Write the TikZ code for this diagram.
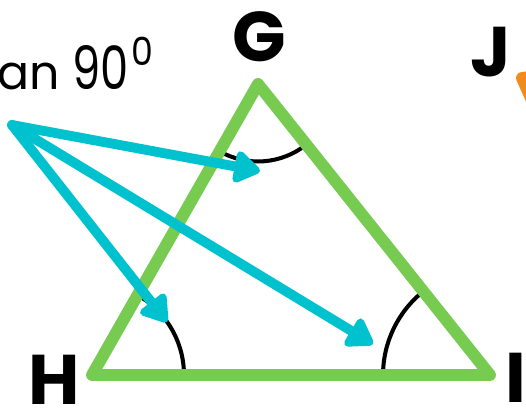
\documentclass[tikz,border=0pt]{standalone}
\usepackage{fontspec}
\setmainfont{Poppins}
\usepackage{tikz}
\usetikzlibrary{arrows.meta}
\usetikzlibrary{positioning}

\definecolor{trigreen}{RGB}{118,203,80}
\definecolor{pointcyan}{RGB}{0,194,206}
\definecolor{sideorange}{RGB}{242,138,30}

\tikzset{
  vertexlabel/.style={font=\fontsize{40}{40}\selectfont\bfseries, inner sep=0pt},
  triside/.style={draw=trigreen, line width=6.8pt, line cap=round, line join=round},
  anglearc/.style={draw=black, line width=2.3pt},
  pointer/.style={draw=pointcyan, line width=5.6pt, line cap=round,
    -{Triangle[length=0.58cm, width=0.72cm, round]}},
}

\begin{document}
\begin{tikzpicture}[x=0.02cm, y=0.02cm]
  \useasboundingbox (0,0) rectangle (526,413);
  \clip (0,0) rectangle (526,413);

  % corners of the triangle
  \coordinate (G) at (258,329);
  \coordinate (H) at (92,38);
  \coordinate (I) at (490,38);

  % where the pointers start and end
  \coordinate (start) at (12,288);
  \coordinate (atG) at (260,242);
  \coordinate (atH) at (167,91);
  \coordinate (atI) at (373,69);

  % angle marks
  \draw[anglearc] ([shift={(0:1.84cm)}]H) arc[start angle=0, end angle=60.3, radius=1.84cm];
  \draw[anglearc] ([shift={(180:2.14cm)}]I) arc[start angle=180, end angle=128.6, radius=2.14cm];
  \draw[anglearc] ([shift={(240.3:1.55cm)}]G) arc[start angle=240.3, end angle=308.6, radius=1.55cm];

  \draw[triside] (G) -- (H) -- (I) -- cycle;

  % part of the next shape
  \draw[draw=sideorange, line width=6.8pt, line cap=round, line join=round]
    (560,250) -- (522,335) -- (600,345);

  \draw[pointer] (start) -- (atG);
  \draw[pointer] (start) -- (atH);
  \draw[pointer] (start) -- (atI);

  \node[vertexlabel] (labelG) at (259,376) {G};
  \node[vertexlabel] (labelJ) at (491,361) {J};
  \node[vertexlabel] (labelH) at (54,33) {H};
  \node[vertexlabel, anchor=west] (labelI) at (505,35) {I};
  \node[anchor=base west, inner sep=0pt] (angletext) at (-3,323)
    {\fontsize{27}{27}\selectfont an\hspace{7pt}%
     \fontsize{34}{34}\selectfont\scalebox{0.75}[1]{90}\hspace{2pt}%
     \raisebox{14pt}{\fontsize{22}{22}\selectfont\scalebox{0.9}[1]{0}}};
\end{tikzpicture}
\end{document}
